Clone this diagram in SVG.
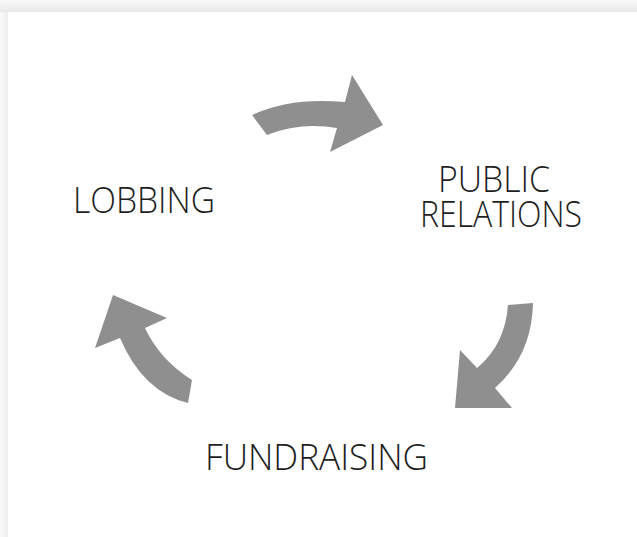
<svg xmlns="http://www.w3.org/2000/svg" width="637" height="537" viewBox="0 0 637 537">
<style>
.arrow{fill:#8f8f8f}
.lbl{font-family:"Open Sans","Noto Sans","DejaVu Sans",sans-serif;font-weight:300;font-size:37px;fill:#1e1e1e}
</style>
<defs>
<linearGradient id="gt" x1="0" y1="0" x2="0" y2="1"><stop offset="0" stop-color="#f8f8f8"/><stop offset="1" stop-color="#e9e9e9"/></linearGradient>
<linearGradient id="gl" x1="0" y1="0" x2="1" y2="0"><stop offset="0" stop-color="#f9f9f9"/><stop offset="1" stop-color="#ededed"/></linearGradient>
</defs>
<g id="background">
<rect x="0" y="0" width="637" height="537" fill="#f6f6f6"/>
<rect x="0" y="0" width="637" height="12" fill="url(#gt)"/>
<rect x="0" y="12" width="8" height="525" fill="url(#gl)"/>
<rect x="8" y="12" width="629" height="525" fill="#ffffff"/>
</g>
<g id="connectors">
<path class="arrow" d="M252,115 Q290,97 345,102 L352,75 L383,125 L330,152 L337,128 Q300,122 267,135 Z"/>
<path class="arrow" d="M508,305 L533,303 Q532,355 495,388 L512,408 L455,408 L460,350 L477,368 Q505,345 508,305 Z"/>
<path class="arrow" d="M192,380 Q160,360 145,328 L167,318 L113,295 L95,348 L120,338 Q143,392 188,403 Z"/>
</g>
<g id="node-lobbing">
<text class="lbl" x="73" y="213" textLength="142" lengthAdjust="spacingAndGlyphs">LOBBING</text>
</g>
<g id="node-public-relations">
<text class="lbl" x="438" y="192" textLength="112" lengthAdjust="spacingAndGlyphs">PUBLIC</text>
<text class="lbl" x="420" y="227" textLength="162" lengthAdjust="spacingAndGlyphs">RELATIONS</text>
</g>
<g id="node-fundraising">
<text class="lbl" x="205" y="470" textLength="223" lengthAdjust="spacingAndGlyphs">FUNDRAISING</text>
</g>
</svg>
